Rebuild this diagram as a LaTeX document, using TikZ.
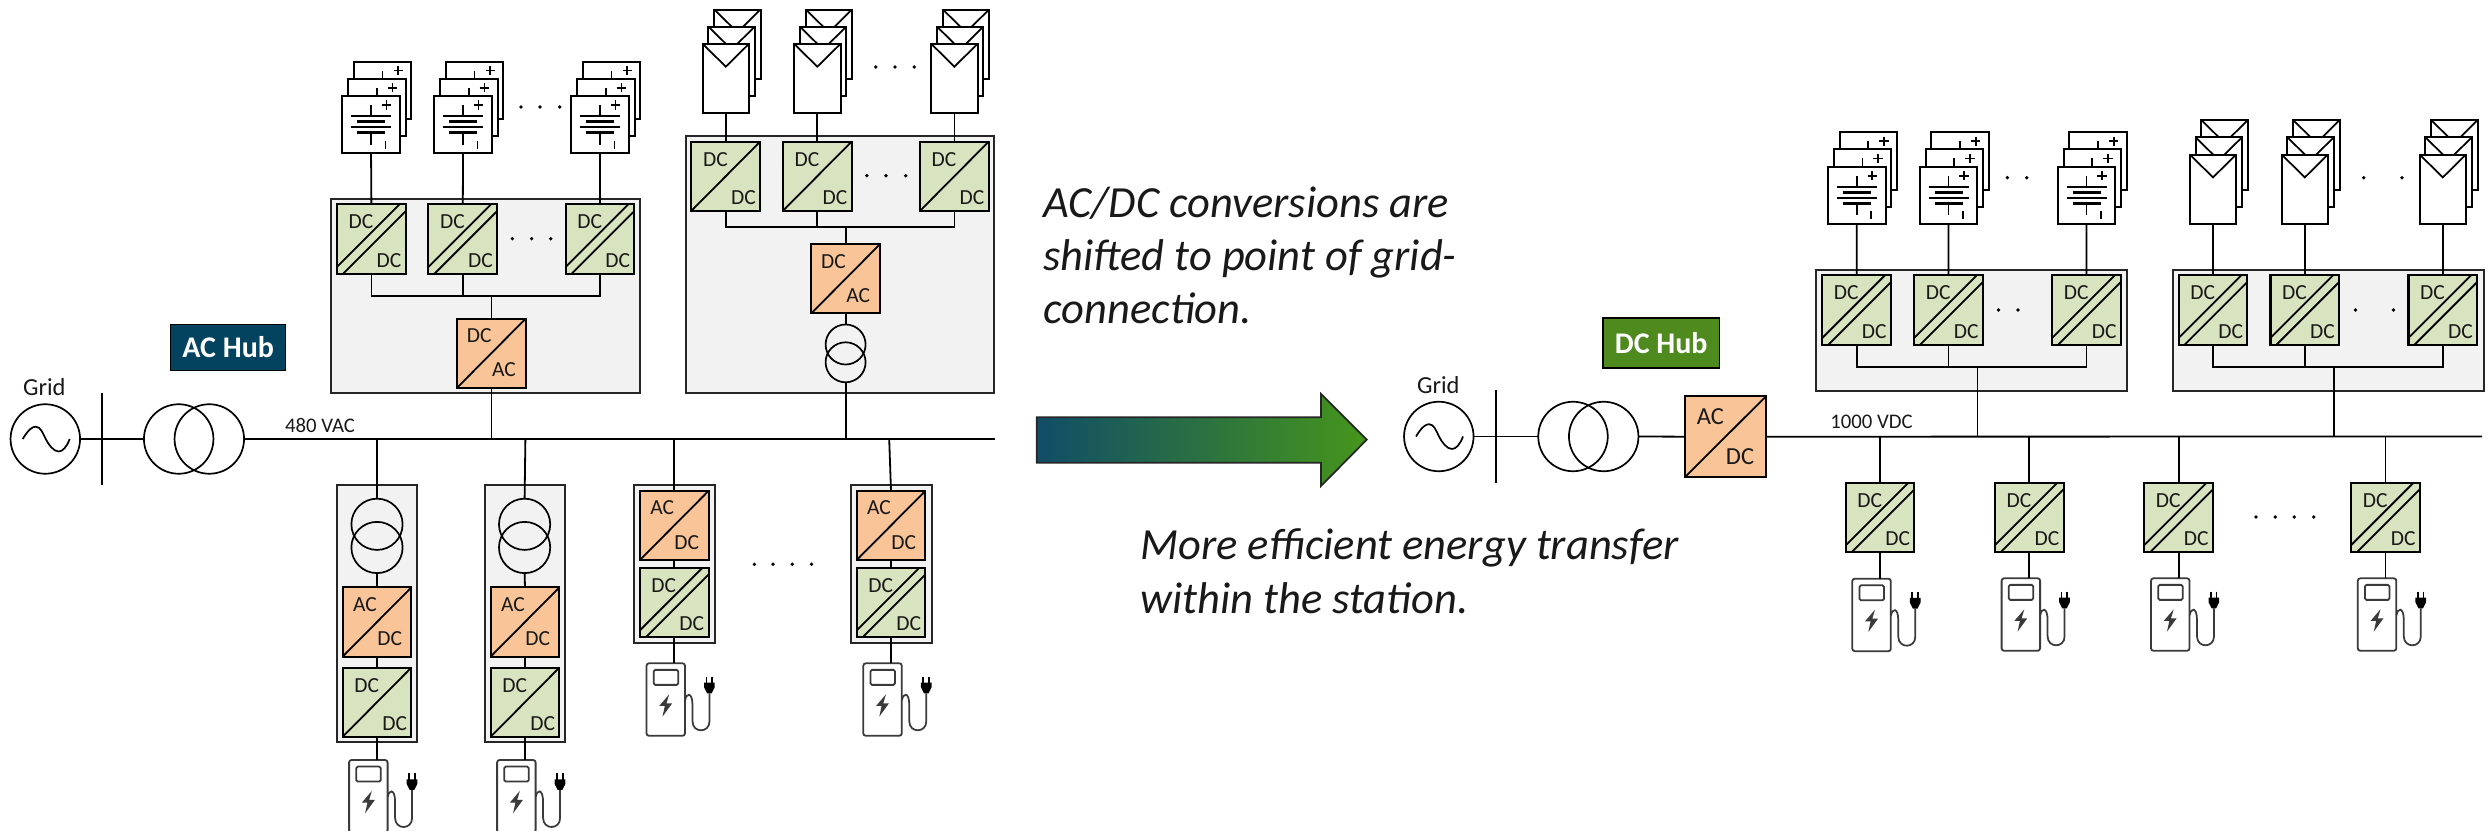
\documentclass[tikz,border=0pt]{standalone}
\usepackage{fontspec}
\setmainfont{Carlito}
\usetikzlibrary{calc}
\definecolor{hubac}{HTML}{04435F}
\definecolor{hubdc}{HTML}{4E8A1E}
\definecolor{grn}{HTML}{D8E3BF}
\definecolor{org}{HTML}{F8C498}
\definecolor{gry}{HTML}{F2F2F2}
\definecolor{chg}{HTML}{3A3A3A}
\tikzset{
  ln/.style={line width=.72pt,black},
  box/.style={draw=black,line width=.85pt,minimum width=27.5pt,minimum height=27.7pt,inner sep=0pt,outer sep=0pt},
  greenbox/.style={box,fill=grn},
  orangebox/.style={box,fill=org},
  lab/.style={font=\fontsize{8.6pt}{9pt}\selectfont,inner sep=0pt,text=black!90},
  biglab/.style={font=\fontsize{9.8pt}{10pt}\selectfont,inner sep=0pt,text=black!90},
  smalltxt/.style={font=\fontsize{8.3pt}{9pt}\selectfont,inner sep=0pt,text=black!90},
  gridtxt/.style={font=\fontsize{9.8pt}{10pt}\selectfont,inner sep=0pt,text=black!90},
  hublab/.style={draw=black,line width=.6pt,text=white,font=\bfseries\fontsize{12pt}{13pt}\selectfont,inner sep=0pt,outer sep=0pt},
  container/.style={draw=black!85,line width=.8pt,fill=gry,inner sep=0pt,outer sep=0pt},
  xfmrH/.style={draw=black,line width=.68pt,circle,minimum size=27.8pt,inner sep=0pt,outer sep=0pt},
  xfmrV/.style={draw=black,line width=.68pt,circle,minimum size=16pt,inner sep=0pt,outer sep=0pt},
  xfmrW/.style={draw=black,line width=.68pt,circle,minimum size=20.5pt,inner sep=0pt,outer sep=0pt},
  layer/.style={draw=black,line width=.8pt,fill=white,inner sep=0pt,outer sep=0pt},
  batbox/.style={layer,minimum size=23pt},
  solbox/.style={layer,minimum width=18.6pt,minimum height=27.7pt},
  chgbody/.style={draw=chg,line width=.72pt,fill=white,rounded corners=1pt,minimum width=15.4pt,minimum height=29pt,inner sep=0pt,outer sep=0pt},
  msg/.style={font=\itshape\fontsize{17.8pt}{19pt}\selectfont,inner sep=0pt,anchor=base west,text=black!90},
  ddot/.style={fill=black,draw=none,circle,minimum size=1.5pt,inner sep=0pt},
}
% converter boxes
\newcommand\dcS[3]{\node[greenbox] (#1) at (#2,#3) {};
  \draw[ln] (#1.south west) -- (#1.north east);
  \node[lab] at ($(#1.north west)+(24,17.7)$) {DC};
  \node[lab] at ($(#1.north west)+(52,56)$) {DC};}
\newcommand\dcD[3]{\node[greenbox] (#1) at (#2,#3) {};
  \draw[ln] ($(#1.south west)+(0,-6.7)$) -- ($(#1.north east)+(-6.2,0)$);
  \draw[ln] ($(#1.south west)+(6.2,0)$) -- ($(#1.north east)+(0,6.7)$);
  \node[lab] at ($(#1.north west)+(24,17.7)$) {DC};
  \node[lab] at ($(#1.north west)+(52,56)$) {DC};}
\newcommand\conv[5]{\node[orangebox] (#1) at (#2,#3) {};
  \draw[ln] (#1.south west) -- (#1.north east);
  \node[lab] at ($(#1.north west)+(22.3,17)$) {#4};
  \node[lab] at ($(#1.north west)+(47,51.5)$) {#5};}
% stacks of three
\newcommand\batmarks{%
  \draw[line width=.68pt] (28.7,9) -- (28.7,20) (8.7,20) -- (48.7,20) (8.7,31.3) -- (48.7,31.3)
     (28.7,36.7) -- (28.7,48.7) (43.3,44.7) -- (43.3,52.7)
     (39.6,9) -- (49,9) (44.3,4.3) -- (44.3,13.7);
  \draw[line width=1.1pt] (15,25.7) -- (42.7,25.7) (15,36.7) -- (42.7,36.7);}
\newcommand\batstack[3]{%
  \foreach \k in {2,1} {%
    \begin{scope}[shift={({#2-28.7+5.8*\k},{#3-17.2*\k})}]
      \node[batbox,anchor=north west] at (0,0) {};
      \batmarks
    \end{scope}}
  \begin{scope}[shift={({#2-28.7},{#3})}]
    \node[batbox,anchor=north west] (#1) at (0,0) {};
    \batmarks
  \end{scope}}
\newcommand\solstack[3]{%
  \foreach \k in {2,1} {%
    \begin{scope}[shift={({#2+5.8*\k},{#3-17.2*\k})}]
      \node[solbox,anchor=north] at (0,0) {};
      \draw[line width=.7pt] (-23,0) -- (0,22.7) -- (23,0);
    \end{scope}}
  \begin{scope}[shift={({#2},{#3})}]
    \node[solbox,anchor=north] (#1) at (0,0) {};
    \draw[line width=.7pt] (-23,0) -- (0,22.7) -- (23,0);
  \end{scope}}
% charger: #2 = x of the feeding line, #3 = top
\newcommand\charger[3]{%
  \begin{scope}[shift={({#2-27.7},{#3})}]
    \node[chgbody,anchor=north west] (#1) at (0,0) {};
    \draw[draw=chg,line width=.72pt,rounded corners=.6pt] (7.2,6.6) rectangle (31.7,21.6);
    \fill[chg] (22.7,31) -- (12.7,42.7) -- (18.3,42.7) -- (16,53.3) -- (25.7,40) -- (20,40) -- cycle;
    \draw[chg,line width=.7pt] (38.7,37) .. controls (39.5,29.5) and (46,28) .. (46,42) -- (46,58)
        .. controls (46,70) and (63,70) .. (63,58) -- (63,30);
    \fill[black] (57.6,19.3) -- (68.2,19.3) -- (68.2,24) -- (65.2,30) -- (60.6,30) -- (57.6,24) -- cycle;
    \draw[black,line width=.7pt] (60,13.3) -- (60,20) (65.6,13.3) -- (65.6,20);
  \end{scope}}
\newcommand\sine[2]{%
  \begin{scope}[shift={(#1,#2)}]
    \draw[line width=.68pt] (-23,0) .. controls (-17,-10) and (-13,-12.3) .. (-10,-12.3)
      .. controls (-5,-12.3) and (-3,-6) .. (0,0) .. controls (3,6) and (8,12.5) .. (13,12.5)
      .. controls (17,12.5) and (21,8) .. (24,0);
  \end{scope}}
\newcommand\tridots[3]{\foreach \q in {#1} {\node[ddot] at (\q,#2) {};}}
\begin{document}
\begin{tikzpicture}[x=.4pt,y=-.4pt]
\useasboundingbox (0,0) rectangle (2489,831);

%%%%% LEFT: AC HUB
% containers
\node[container,minimum width=123.7pt,minimum height=77.7pt] (cA) at (485.3,296.2) {};
\node[container,minimum width=123.2pt,minimum height=102.9pt] (cB) at (840,264.7) {};
\node[container,minimum width=32pt,minimum height=103pt] (c1) at (377,613.3) {};
\node[container,minimum width=32pt,minimum height=103pt] (c2) at (524.6,613.3) {};
\node[container,minimum width=32.3pt,minimum height=63pt] (c3) at (674.2,564) {};
\node[container,minimum width=32.3pt,minimum height=63pt] (c4) at (891.2,564) {};

% grid side
\node[draw=black,line width=.68pt,circle,minimum size=27.8pt,inner sep=0pt,outer sep=0pt] (gridL) at (45.3,439) {};
\sine{45.7}{439}
\node[gridtxt] (gridLt) at (44.3,387.5) {Grid};
\coordinate (barLt) at (102.3,392.7);
\coordinate (barLb) at (102.3,485);
\draw[ln] (barLt) -- (barLb);
\node[xfmrH] (tLa) at (178.7,439) {};
\node[xfmrH] (tLb) at (209.3,439) {};
\coordinate (busLe) at (995,439);
\draw[ln] (gridL.east) -- (tLa.west);
\draw[ln] (tLb.east) -- (busLe);
\node[hublab,fill=hubac,minimum width=46pt,minimum height=18.5pt] (hubA) at (228.2,347.5) {AC Hub};
\node[smalltxt] (v480) at (320,425) {480 VAC};

% batteries
\batstack{bA1}{371}{96}
\batstack{bA2}{463}{96}
\batstack{bA3}{600}{96}
\dcD{dA1}{371.4}{239}
\dcD{dA2}{462.8}{239}
\dcD{dA3}{600}{239}
\conv{iA}{491.4}{353.2}{DC}{AC}
\draw[ln] (bA1.south) -- (dA1.north);
\draw[ln] (bA2.south) -- (dA2.north);
\draw[ln] (bA3.south) -- (dA3.north);
\coordinate (jA) at (491.4,295.7);
\draw[ln] (dA1.south) |- (jA);
\draw[ln] (dA2.south) -- (dA2.south |- jA);
\draw[ln] (dA3.south) |- (jA);
\draw[ln] (jA) -- (iA.north);
\draw[ln] (iA.south) -- (iA.south |- busLe);
\tridots{520.9,540,559.7}{107}{}
\tridots{512.4,531.6,550.8}{238.7}{}

% solar
\solstack{sA1}{725.8}{44}
\solstack{sA2}{817.3}{44}
\solstack{sA3}{954.4}{44}
\dcS{eA1}{725.8}{176.2}
\dcS{eA2}{817.3}{176.2}
\dcS{eA3}{954.4}{176.2}
\conv{iB}{845.6}{278.8}{DC}{AC}
\node[xfmrV] (tBa) at (845.6,344.5) {};
\node[xfmrV] (tBb) at (845.6,362.3) {};
\draw[ln] (sA1.south) -- (eA1.north);
\draw[ln] (sA2.south) -- (eA2.north);
\draw[ln] (sA3.south) -- (eA3.north);
\coordinate (jB) at (845.6,227.3);
\draw[ln] (eA1.south) |- (jB);
\draw[ln] (eA2.south) -- (eA2.south |- jB);
\draw[ln] (eA3.south) |- (jB);
\draw[ln] (jB) -- (iB.north);
\draw[ln] (iB.south) -- (tBa.north);
\draw[ln] (tBb.south) -- (tBb.south |- busLe);
\tridots{875.8,895,914.2}{67}{}
\tridots{866.9,886,905.7}{175.7}{}

% chargers, AC hub
\node[xfmrW] (t1a) at (377,524.3) {};
\node[xfmrW] (t1b) at (377,547.5) {};
\conv{r1}{377}{622}{AC}{DC}
\dcS{k1}{377}{702.2}
\charger{g1}{376.8}{760}
\draw[ln] (t1a.north) -- (t1a.north |- busLe);
\draw[ln] (t1b.south) -- (r1.north);
\draw[ln] (r1.south) -- (k1.north);
\draw[ln] (k1.south) -- (k1.south |- g1.north);

\node[xfmrW] (t2a) at (524.6,524.3) {};
\node[xfmrW] (t2b) at (524.6,547.5) {};
\conv{r2}{525}{622}{AC}{DC}
\dcS{k2}{525}{702.2}
\charger{g2}{524.8}{760}
\draw[ln] (t2a.north) -- (525.4,439);
\draw[ln] (t2b.south) -- (r2.north);
\draw[ln] (r2.south) -- (k2.north);
\draw[ln] (k2.south) -- (k2.south |- g2.north);

\conv{r3}{674.2}{525.5}{AC}{DC}
\dcD{k3}{674.2}{602.5}
\charger{g3}{674.2}{663.3}
\draw[ln] (r3.north) -- (r3.north |- busLe);
\draw[ln] (r3.south) -- (k3.north);
\draw[ln] (k3.south) -- (k3.south |- g3.north);

\conv{r4}{891}{525.5}{AC}{DC}
\dcD{k4}{891}{602.5}
\charger{g4}{891}{663.3}
\draw[ln] (r4.north) -- (889.2,439);
\draw[ln] (r4.south) -- (k4.north);
\draw[ln] (k4.south) -- (k4.south |- g4.north);
\tridots{754.4,773,792.3,811.5}{564.3}{}

%%%%% MIDDLE
\node[msg] (m1) at (1043,218) {AC/DC conversions are};
\node[msg] (m2) at (1043,271) {shifted to point of grid-};
\node[msg] (m3) at (1043,324) {connection.};
\node[msg] (m4) at (1140,560) {More efficient energy transfer};
\node[msg] (m5) at (1140,614) {within the station.};
\draw[draw=black!85,line width=.7pt,left color=hubac!95!white,right color=hubdc!90!green]
  (1036.7,417.3) -- (1321,417.3) -- (1321,394) -- (1366.7,439.7) -- (1321,486) -- (1321,462.7) -- (1036.7,462.7) -- cycle;

%%%%% RIGHT: DC HUB
\node[container,minimum width=124.2pt,minimum height=48.3pt] (cC) at (1971.6,330.3) {};
\node[container,minimum width=124.4pt,minimum height=48.3pt] (cD) at (2328.5,330.3) {};

\node[draw=black,line width=.68pt,circle,minimum size=27.8pt,inner sep=0pt,outer sep=0pt] (gridR) at (1438.8,436.5) {};
\sine{1439}{436.5}
\node[gridtxt] (gridRt) at (1438.3,385.5) {Grid};
\coordinate (barRt) at (1496.3,390);
\coordinate (barRb) at (1496.3,482.7);
\draw[ln] (barRt) -- (barRb);
\node[xfmrH] (tRa) at (1573,436.5) {};
\node[xfmrH] (tRb) at (1603.7,436.5) {};
\node[box,fill=org,minimum width=32.4pt,minimum height=32.3pt] (iR) at (1725.5,436.7) {};
\draw[ln] (iR.south west) -- (iR.north east);
\node[biglab] at ($(iR.north west)+(25.3,20)$) {AC};
\node[biglab] at ($(iR.north west)+(55,60.7)$) {DC};
\coordinate (busRe) at (2482,436.5);
\draw[ln] (gridR.east) -- (tRa.west);
\draw[ln] (tRb.east) -- (iR.west);
\draw[ln] (iR.east) -- (busRe);
\node[hublab,fill=hubdc,minimum width=46.5pt,minimum height=20pt] (hubD) at (1661.2,343) {DC Hub};
\node[smalltxt] (v1000) at (1871.6,422) {1000 VDC};

\batstack{bC1}{1856.7}{166.7}
\batstack{bC2}{1948.5}{166.7}
\batstack{bC3}{2086.5}{166.7}
\dcD{dC1}{1856.7}{310}
\dcD{dC2}{1948.5}{310}
\dcD{dC3}{2086.5}{310}
\draw[ln] (bC1.south) -- (dC1.north);
\draw[ln] (bC2.south) -- (dC2.north);
\draw[ln] (bC3.south) -- (dC3.north);
\coordinate (jC) at (1977.5,367.3);
\draw[ln] (dC1.south) |- (jC);
\draw[ln] (dC2.south) -- (dC2.south |- jC);
\draw[ln] (dC3.south) |- (jC);
\draw[ln] (jC) -- (jC |- busRe);
\tridots{2007.4,2026.7}{177.7}{}
\tridots{1998.6,2017.9}{310}{}

\solstack{sC1}{2213}{154.7}
\solstack{sC2}{2304.8}{154.7}
\solstack{sC3}{2442.8}{154.7}
\dcD{dD1}{2213}{310}
\dcD{dD2}{2304.8}{310}
\dcD{dD3}{2442.8}{310}
\draw[ln] (sC1.south) -- (dD1.north);
\draw[ln] (sC2.south) -- (dD2.north);
\draw[ln] (sC3.south) -- (dD3.north);
\coordinate (jD) at (2333.8,367.3);
\draw[ln] (dD1.south) |- (jD);
\draw[ln] (dD2.south) -- (dD2.south |- jD);
\draw[ln] (dD3.south) |- (jD);
\draw[ln] (jD) -- (jD |- busRe);
\tridots{2363.7,2402}{177.7}{}
\tridots{2355.4,2393.6}{310}{}

\dcD{q1}{1880}{517.5}
\dcD{q2}{2029.3}{517.2}
\dcD{q3}{2178.7}{517.2}
\dcD{q4}{2385.5}{517.2}
\charger{h1}{1880}{578.7}
\charger{h2}{2029.3}{578.3}
\charger{h3}{2178.7}{578.3}
\charger{h4}{2385.5}{578.3}
\foreach \n/\m in {q1/h1,q2/h2,q3/h3,q4/h4} {
  \draw[ln] (\n.north) -- (\n.north |- busRe);
  \draw[ln] (\n.south) -- (\n.south |- \m.north);
}
\tridots{2256,2275.3,2294.3,2313.7}{517}{}
\end{tikzpicture}
\end{document}
